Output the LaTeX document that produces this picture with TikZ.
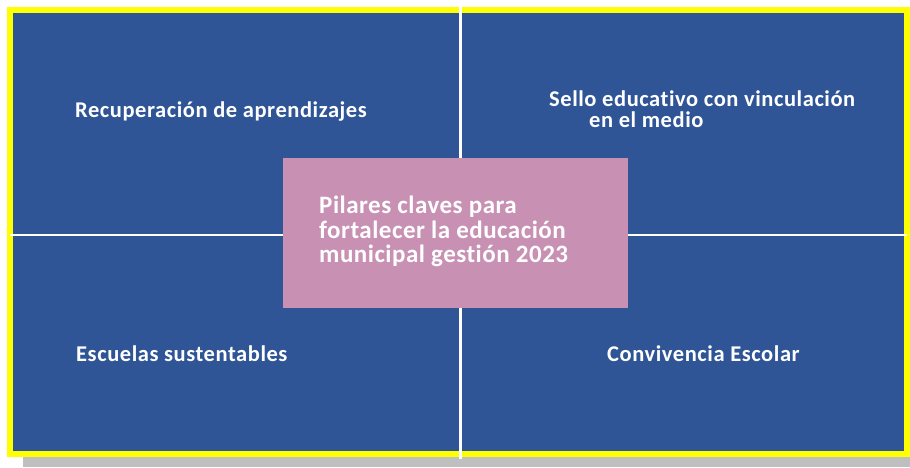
\documentclass[tikz,border=0pt]{standalone}
\usepackage{fontspec}
\setmainfont{Carlito}
\newfontfamily\quadfont{Carlito}[LetterSpace=2.5,Ligatures=NoCommon]
\newfontfamily\centerfont{Carlito}[LetterSpace=2,Ligatures=NoCommon]
\usepackage{tikz}
\usetikzlibrary{positioning}
\definecolor{pilarblue}{RGB}{47,85,151}
\definecolor{pilarpink}{RGB}{200,145,180}
\definecolor{frameyellow}{RGB}{255,255,0}
\definecolor{shadowgray}{RGB}{191,191,191}

\begin{document}
\begin{tikzpicture}[x=1pt,y=-1pt,
    quadtext/.style={text=white,font=\quadfont\fontsize{22.5}{20}\selectfont\bfseries,inner sep=0pt,anchor=base west,align=left},
    centertext/.style={text=white,font=\centerfont\fontsize{25}{24.5}\selectfont\bfseries,inner sep=0pt,anchor=base west,align=left},
    divider/.style={draw=white,line width=2.6pt}
]
\useasboundingbox (0,0) rectangle (910,467);
% frame, shadow and quadrants
\fill[shadowgray] (23,457) rectangle (910,467);
\fill[frameyellow] (7,7) rectangle (910,457);
\fill[pilarblue] (13,13) rectangle (904,451);
\draw[divider] (460.3,7) -- (460.3,459);
\draw[divider,line width=2pt] (10,235.3) -- (906.7,235.3);
\fill[pilarpink] (283,158) rectangle (628,308);

\node[quadtext] (recup) at (75,117.3) {Recuperación de aprendizajes};
% last line sits on the base anchor
\node[quadtext,font=\quadfont\fontsize{22.5}{20.3}\selectfont\bfseries] (sello) at (549,127) {Sello educativo con vinculación\\\hspace*{40pt}en el medio};
\node[quadtext] (escuelas) at (76,361.7) {Escuelas sustentables};
\node[quadtext] (convivencia) at (607,361.7) {Convivencia Escolar};
\node[centertext] (pilares) at (319,262.7) {Pilares claves para\\fortalecer la educación\\municipal gestión 2023};
\end{tikzpicture}
\end{document}
